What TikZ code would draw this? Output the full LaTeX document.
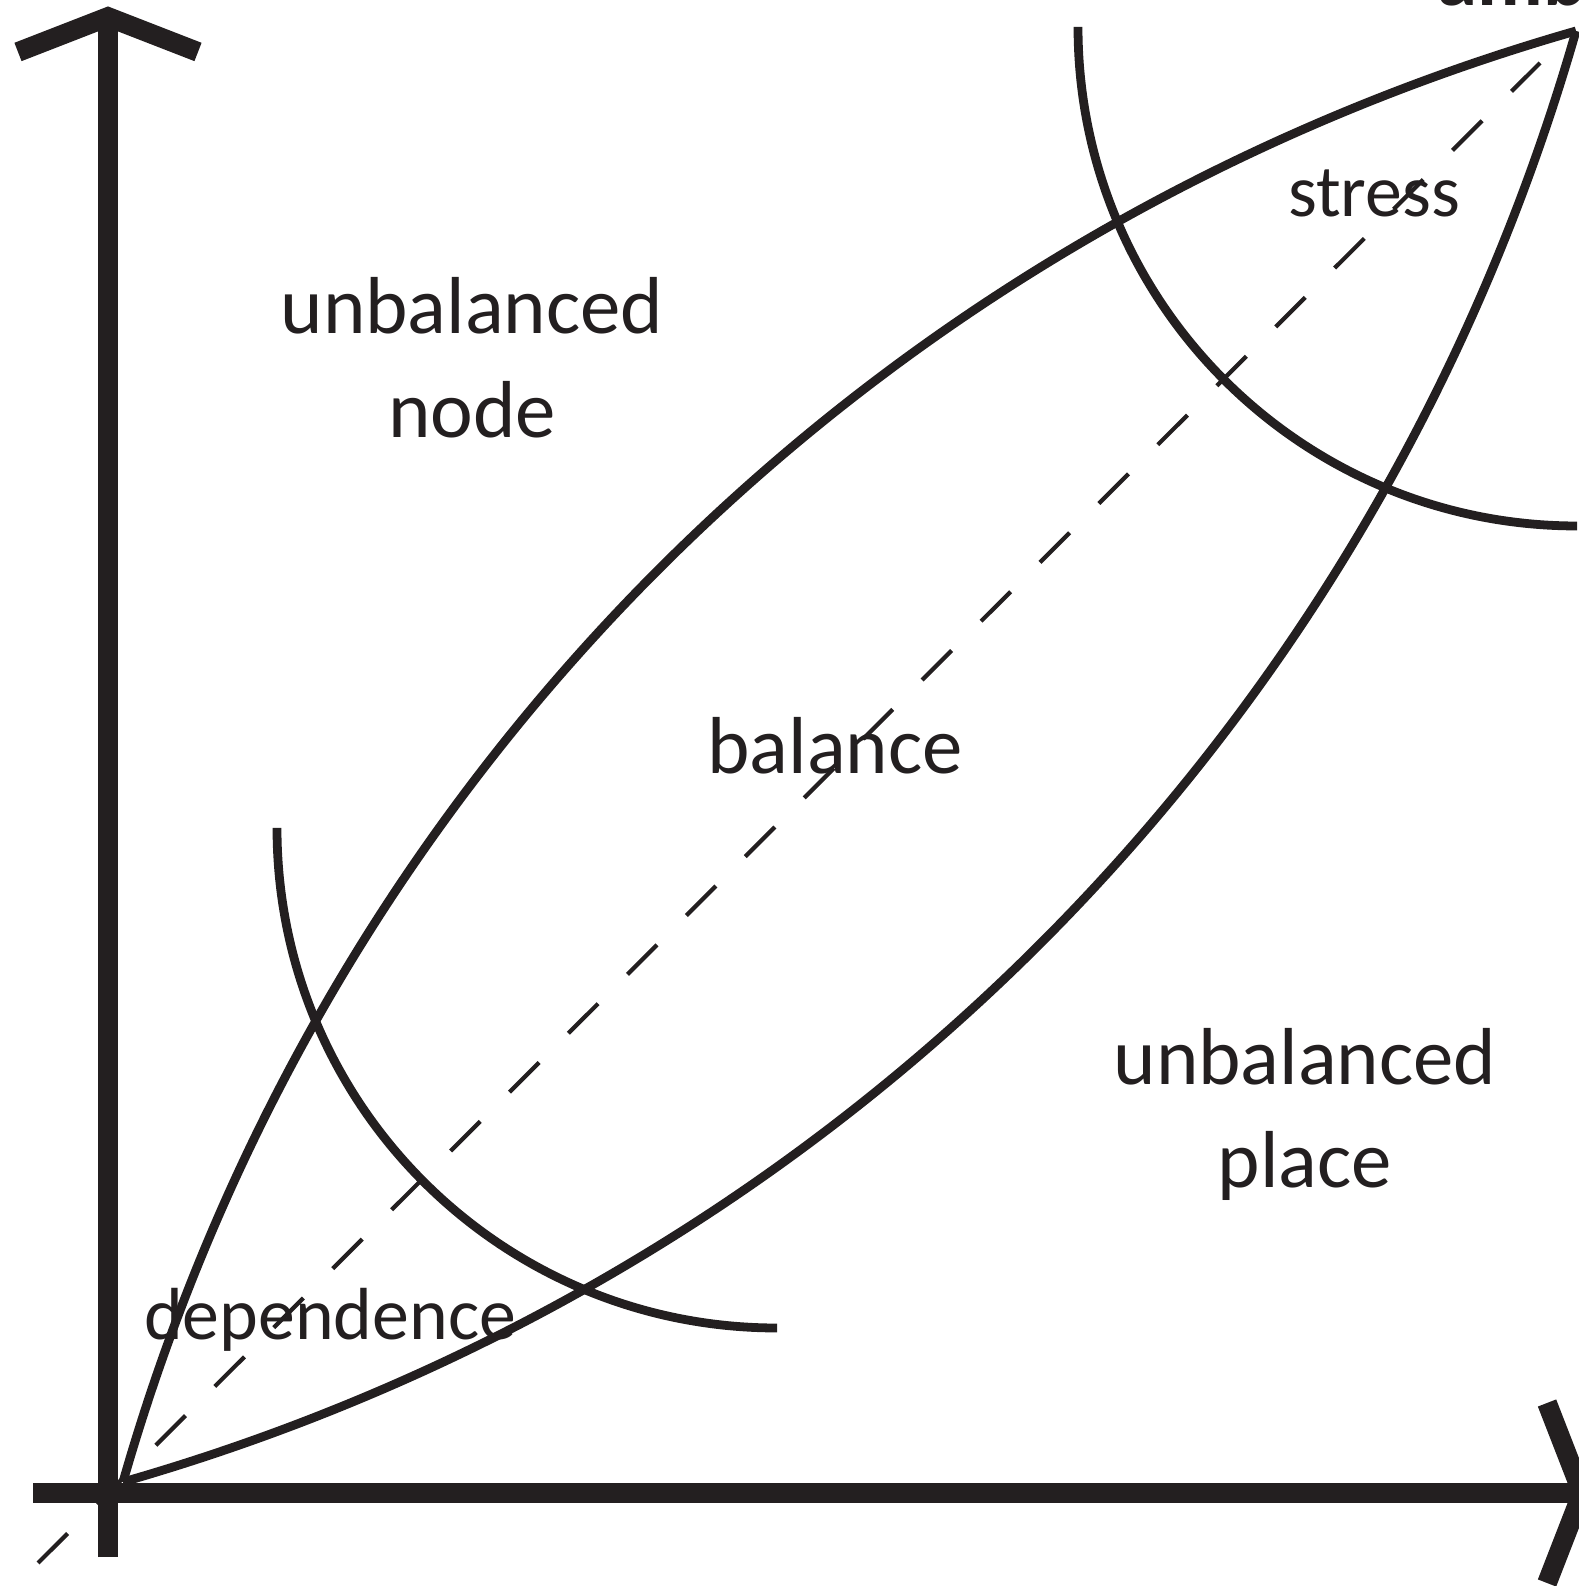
\documentclass[tikz,border=0pt]{standalone}
\usepackage{fontspec}
\setmainfont{Carlito}
\definecolor{ink}{RGB}{35,31,32}

\begin{document}
\begin{tikzpicture}[line join=miter,
    axis/.style={line width=5.6pt, draw=ink},
    curve/.style={line width=2.5pt, draw=ink},
    guide/.style={line width=1.2pt, draw=ink, dash pattern=on 11.9pt off 11.8pt},
    big/.style={font=\fontsize{23}{28}\selectfont, text=ink, inner sep=0pt, anchor=base},
    small/.style={font=\fontsize{21}{25}\selectfont, text=ink, inner sep=0pt, anchor=base}]
    \useasboundingbox (0,0) rectangle (15.78,15.86);
    \coordinate (o) at (1.23,1.04);
    \coordinate (t) at (15.76,15.55);
    \draw[guide] (0.38,0.23) -- (15.40,15.23);
    \draw[curve] (o) .. controls +(74:7.35) and +(196:7.35) .. (t);
    \draw[curve] (o) .. controls +(16:7.35) and +(254:7.35) .. (t);
    \draw[curve] (2.77,7.58) arc[start angle=180, end angle=270, radius=5];
    \draw[curve] (10.78,15.59) arc[start angle=180, end angle=270, radius=4.99];
    \draw[axis] (1.08,0.29) -- (1.08,15.69);
    \draw[axis] (0.18,15.34) -- (1.08,15.69) -- (1.98,15.34);
    \draw[axis] (0.33,0.93) -- (15.82,0.93);
    \draw[axis] (15.47,1.83) -- (15.82,0.93) -- (15.47,0.03);
    \node[big] (unbal1) at (4.72,12.52) {unbalanced};
    \node[big] (nodelbl) at (4.72,11.48) {node};
    \node[big] (balance) at (8.35,8.12) {balance};
    \node[big] (unbal2) at (13.05,5.01) {unbalanced};
    \node[big] (placelbl) at (13.05,3.98) {place};
    \node[small] (stress) at (13.74,13.69) {stress};
    \node[small] (depend) at (3.30,2.46) {dependence};
    \node[big, font=\fontsize{23}{28}\selectfont\bfseries, anchor=base west] (cut) at (14.37,15.80) {amb};
\end{tikzpicture}
\end{document}
